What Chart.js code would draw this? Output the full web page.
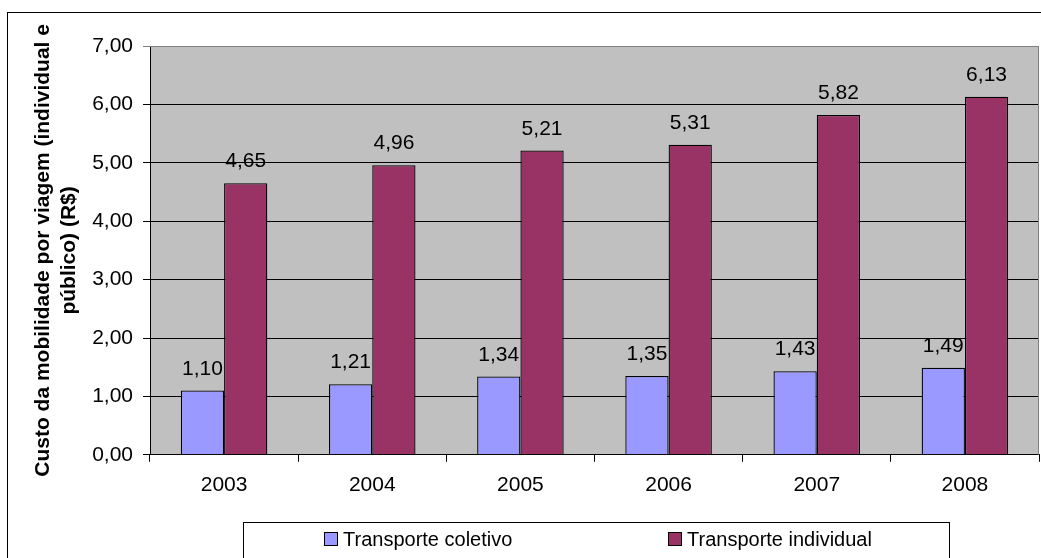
<!DOCTYPE html>
<html>
<head>
<meta charset="utf-8">
<script src="https://cdn.jsdelivr.net/npm/chart.js@4/dist/chart.umd.min.js"></script>
<style>
  html, body { margin: 0; padding: 0; background: #fff; }
  #wrap { width: 1041px; height: 558px; position: relative; }
</style>
</head>
<body>
<div id="wrap"><canvas id="grafico"></canvas></div>
<script>
const anos = ['2003', '2004', '2005', '2006', '2007', '2008'];
const coletivo = [1.10, 1.21, 1.34, 1.35, 1.43, 1.49];
const individual = [4.65, 4.96, 5.21, 5.31, 5.82, 6.13];
const nomesSeries = ['Transporte coletivo', 'Transporte individual'];
const tituloEixoY = ['Custo da mobilidade por viagem (individual e', 'público) (R$)'];

function virgula(v) {
    return Number(v).toFixed(2).replace('.', ',');
}

Chart.defaults.font.family = '"Liberation Sans", Arial, sans-serif';
Chart.defaults.color = '#000';

// fundo cinza da area do grafico + moldura externa
const fundo = {
    id: 'fundo',
    beforeDraw(chart) {
        const { ctx, chartArea: a } = chart;
        ctx.save();
        ctx.fillStyle = '#C0C0C0';
        ctx.fillRect(a.left, a.top, a.right - a.left, a.bottom - a.top);
        ctx.strokeStyle = '#000';
        ctx.lineWidth = 1;
        ctx.strokeRect(7.5, 12.5, 1100, 700);
        ctx.restore();
    },
    afterDraw(chart) {
        const { ctx, chartArea: a } = chart;
        ctx.save();
        ctx.strokeStyle = '#808080';
        ctx.lineWidth = 1;
        ctx.beginPath();
        ctx.moveTo(a.left, a.top + 0.5);
        ctx.lineTo(a.right - 0.5, a.top + 0.5);
        ctx.lineTo(a.right - 0.5, a.bottom);
        ctx.stroke();
        ctx.restore();
    }
};

// valores acima das barras
const rotulos = {
    id: 'rotulos',
    afterDatasetsDraw(chart) {
        const ctx = chart.ctx;
        ctx.save();
        ctx.font = '21px "Liberation Sans", Arial, sans-serif';
        ctx.fillStyle = '#000';
        ctx.textAlign = 'center';
        ctx.textBaseline = 'alphabetic';
        chart.data.datasets.forEach((ds, i) => {
            chart.getDatasetMeta(i).data.forEach((bar, j) => {
                ctx.fillText(virgula(ds.data[j]), bar.x, bar.y - 16);
            });
        });
        ctx.restore();
    }
};

// legenda em caixa na parte de baixo
const legenda = {
    id: 'legenda',
    afterDraw(chart) {
        const ctx = chart.ctx;
        const xs = [324, 668];
        ctx.save();
        ctx.strokeStyle = '#000';
        ctx.lineWidth = 1;
        ctx.strokeRect(243.5, 522.5, 706, 100);
        ctx.font = '20px "Liberation Sans", Arial, sans-serif';
        ctx.textBaseline = 'middle';
        ctx.textAlign = 'left';
        chart.data.datasets.forEach((ds, i) => {
            ctx.fillStyle = ds.backgroundColor;
            ctx.fillRect(xs[i] + 0.5, 532.5, 13, 13);
            ctx.strokeRect(xs[i] + 0.5, 532.5, 13, 13);
            ctx.fillStyle = '#000';
            ctx.fillText(ds.label, xs[i] + 19, 540);
        });
        ctx.restore();
    }
};

new Chart(document.getElementById('grafico').getContext('2d'), {
    type: 'bar',
    data: {
        labels: anos,
        datasets: [{
            label: nomesSeries[0],
            data: coletivo,
            backgroundColor: '#9999FF',
            borderColor: '#000',
            borderWidth: 1.3
        }, {
            label: nomesSeries[1],
            data: individual,
            backgroundColor: '#993366',
            borderColor: '#000',
            borderWidth: 1.3
        }]
    },
    options: {
        responsive: true,
        maintainAspectRatio: false,
        animation: false,
        devicePixelRatio: 1,
        layout: { padding: { top: 46, right: 2, bottom: 49, left: 0 } },
        datasets: { bar: { categoryPercentage: 0.584, barPercentage: 1.0 } },
        plugins: { legend: { display: false }, tooltip: { enabled: false } },
        scales: {
            x: {
                grid: { drawOnChartArea: false, drawTicks: true, tickLength: 7, color: '#000' },
                border: { display: true, color: '#000' },
                ticks: { font: { size: 21 }, padding: 11, color: '#000' }
            },
            y: {
                min: 0,
                max: 7,
                afterFit(scale) { scale.width = 150; },
                grid: {
                    color: c => (c.tick && c.tick.value === 7) ? '#808080' : '#000',
                    tickLength: 7
                },
                border: { display: true, color: '#000' },
                ticks: {
                    stepSize: 1,
                    font: { size: 21 },
                    padding: 10,
                    color: '#000',
                    callback: v => virgula(v)
                },
                title: {
                    display: true,
                    text: tituloEixoY,
                    font: { size: 21, weight: 'bold' },
                    padding: { top: 31, bottom: 0 },
                    color: '#000'
                }
            }
        }
    },
    plugins: [fundo, rotulos, legenda]
});
</script>
</body>
</html>
